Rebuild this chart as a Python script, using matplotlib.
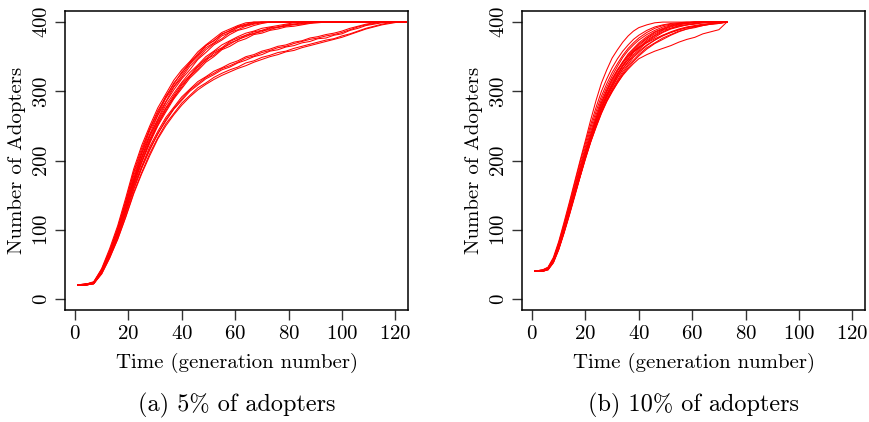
import matplotlib
matplotlib.use("Agg")
import matplotlib.pyplot as plt

plt.rcParams['font.family'] = 'cmr10'
plt.rcParams['axes.formatter.use_mathtext'] = True

# generations at which the 5% runs were read (every 3 generations)
t_a = [1, 4, 7, 10, 13, 16, 19, 22, 25, 28, 31, 34, 37, 40, 43, 46, 49, 52, 55, 58, 61,
       64, 67, 70, 73, 76, 79, 82, 85, 88, 91, 94, 97, 100, 103, 106, 109, 112, 115, 118,
       121, 124]

runs_a = [
    # fast runs, saturate around generation 65-75
    [20, 21, 24, 44, 73, 106, 146, 188, 222, 250, 276, 296, 316, 331, 343, 357, 367, 376, 385, 390, 395,
     399, 400, 400, 400, 400, 400, 400, 400, 400, 400, 400, 400, 400, 400, 400, 400, 400, 400, 400,
     400, 400],
    [20, 20, 23, 41, 69, 101, 140, 182, 214, 246, 269, 293, 310, 328, 340, 354, 366, 373, 382, 388, 393,
     396, 399, 400, 400, 400, 400, 400, 400, 400, 400, 400, 400, 400, 400, 400, 400, 400, 400, 400,
     400, 400],
    [20, 22, 23, 40, 67, 98, 136, 174, 210, 238, 265, 285, 306, 320, 336, 347, 360, 369, 376, 385, 389,
     394, 397, 399, 400, 400, 400, 400, 400, 400, 400, 400, 400, 400, 400, 400, 400, 400, 400, 400,
     400, 400],
    [20, 21, 25, 43, 70, 103, 142, 184, 218, 246, 272, 291, 312, 326, 342, 352, 366, 373, 383, 387, 394,
     397, 400, 400, 400, 400, 400, 400, 400, 400, 400, 400, 400, 400, 400, 400, 400, 400, 400, 400,
     400, 400],
    [20, 20, 22, 39, 66, 97, 134, 172, 205, 236, 260, 284, 302, 318, 331, 346, 356, 367, 374, 382, 388,
     391, 395, 398, 400, 400, 400, 400, 400, 400, 400, 400, 400, 400, 400, 400, 400, 400, 400, 400,
     400, 400],
    [20, 21, 24, 42, 68, 99, 137, 178, 211, 243, 266, 290, 307, 323, 339, 350, 363, 370, 380, 385, 392,
     395, 398, 400, 400, 400, 400, 400, 400, 400, 400, 400, 400, 400, 400, 400, 400, 400, 400, 400,
     400, 400],
    # middle runs
    [20, 21, 23, 41, 67, 98, 135, 173, 205, 235, 258, 280, 297, 313, 327, 338, 350, 358, 367, 373, 379,
     384, 387, 391, 393, 395, 397, 399, 400, 400, 400, 400, 400, 400, 400, 400, 400, 400, 400, 400,
     400, 400],
    [20, 20, 22, 38, 64, 94, 128, 167, 198, 229, 251, 275, 290, 309, 321, 335, 344, 355, 361, 370, 374,
     381, 383, 388, 389, 393, 394, 397, 397, 399, 400, 400, 400, 400, 400, 400, 400, 400, 400, 400,
     400, 400],
    [20, 21, 24, 40, 65, 93, 129, 165, 197, 225, 250, 270, 289, 304, 319, 330, 342, 350, 360, 365, 372,
     376, 382, 384, 388, 390, 393, 394, 396, 398, 399, 400, 400, 400, 400, 400, 400, 400, 400, 400,
     400, 400],
    [20, 20, 23, 39, 66, 96, 132, 170, 203, 231, 256, 276, 294, 311, 323, 337, 347, 357, 363, 372, 377,
     381, 386, 388, 392, 393, 396, 397, 399, 400, 400, 400, 400, 400, 400, 400, 400, 400, 400, 400,
     400, 400],
    [20, 22, 23, 40, 64, 95, 130, 169, 199, 227, 254, 272, 292, 306, 322, 332, 346, 352, 362, 368, 375,
     379, 384, 386, 391, 392, 395, 396, 398, 399, 400, 400, 400, 400, 400, 400, 400, 400, 400, 400,
     400, 400],
    # slow runs
    [20, 20, 22, 38, 63, 92, 127, 163, 192, 220, 242, 262, 277, 292, 303, 314, 321, 329, 334, 340, 344,
     350, 353, 358, 361, 365, 367, 371, 373, 377, 379, 382, 384, 387, 391, 394, 397, 399, 400, 400,
     400, 400],
    [20, 21, 23, 38, 62, 90, 123, 158, 189, 215, 239, 257, 274, 287, 300, 309, 318, 324, 331, 335, 341,
     345, 350, 353, 358, 360, 364, 366, 370, 372, 376, 377, 381, 383, 388, 391, 395, 397, 399, 400,
     400, 400],
    [20, 20, 22, 36, 59, 87, 119, 154, 183, 210, 233, 253, 268, 283, 294, 305, 312, 320, 326, 331, 335,
     341, 344, 349, 352, 356, 358, 362, 365, 368, 371, 374, 376, 380, 383, 387, 391, 394, 397, 399,
     400, 400],
    [20, 21, 22, 37, 60, 86, 118, 152, 181, 207, 231, 250, 266, 280, 292, 302, 310, 317, 323, 328, 333,
     337, 342, 346, 350, 353, 357, 359, 363, 366, 369, 372, 375, 378, 382, 386, 390, 393, 396, 398,
     400, 400],
    [20, 20, 23, 37, 61, 90, 124, 160, 190, 217, 238, 259, 275, 289, 302, 311, 320, 326, 333, 337, 342,
     348, 351, 356, 359, 363, 365, 369, 372, 375, 377, 380, 382, 385, 389, 393, 396, 398, 400, 400,
     400, 400],
]

# generations at which the 10% runs were read
t_b = [1, 4, 6, 8, 10, 12, 14, 16, 18, 20, 22, 24, 26, 28, 30, 32, 34, 36, 38, 40, 43,
       46, 49, 52, 55, 58, 61, 64, 67, 70, 73]

runs_b = [
    [40, 42, 46, 60, 83, 111, 140, 170, 200, 229, 259, 287, 312, 331, 348, 360, 371, 380, 387, 392, 396,
     399, 400, 400, 400, 400, 400, 400, 400, 400, 400],
    [40, 41, 45, 58, 79, 105, 131, 160, 189, 216, 242, 266, 288, 306, 322, 336, 349, 359, 367, 374, 382,
     388, 393, 396, 398, 399, 400, 400, 400, 400, 400],
    [40, 40, 43, 54, 74, 99, 126, 152, 181, 207, 232, 256, 276, 295, 309, 324, 337, 346, 357, 363, 374,
     381, 388, 391, 395, 396, 398, 399, 400, 400, 400],
    [40, 41, 45, 57, 80, 106, 134, 163, 192, 220, 247, 271, 293, 311, 327, 340, 352, 362, 370, 377, 385,
     391, 395, 397, 398, 399, 400, 400, 400, 400, 400],
    [40, 40, 43, 53, 72, 97, 123, 151, 177, 205, 228, 251, 271, 288, 303, 316, 329, 339, 349, 356, 366,
     374, 381, 386, 390, 393, 395, 397, 398, 399, 400],
    [40, 42, 44, 56, 76, 102, 128, 156, 183, 210, 235, 259, 280, 299, 314, 329, 341, 352, 360, 368, 377,
     385, 390, 394, 397, 398, 400, 400, 400, 400, 400],
    [40, 40, 42, 52, 71, 95, 121, 148, 176, 202, 227, 248, 268, 285, 299, 312, 324, 334, 343, 351, 361,
     369, 375, 381, 386, 390, 393, 395, 397, 398, 400],
    [40, 41, 44, 56, 76, 101, 127, 154, 182, 208, 233, 256, 277, 296, 311, 326, 338, 349, 358, 366, 376,
     383, 389, 393, 396, 398, 399, 400, 400, 400, 400],
    [40, 40, 43, 54, 73, 98, 125, 152, 180, 206, 230, 253, 274, 291, 306, 320, 333, 343, 353, 360, 371,
     378, 385, 390, 393, 396, 397, 399, 400, 400, 400],
    [40, 41, 45, 58, 81, 108, 137, 167, 197, 225, 252, 277, 300, 318, 334, 347, 358, 367, 375, 381, 388,
     393, 396, 398, 399, 400, 400, 400, 400, 400, 400],
    [40, 40, 42, 53, 72, 96, 122, 150, 177, 204, 229, 250, 270, 287, 301, 314, 326, 337, 345, 353, 363,
     370, 377, 382, 387, 390, 392, 395, 397, 398, 400],
    [40, 41, 44, 55, 75, 100, 127, 154, 181, 208, 232, 255, 276, 293, 309, 323, 336, 346, 356, 362, 372,
     380, 386, 391, 394, 396, 398, 400, 400, 400, 400],
    [40, 40, 43, 54, 73, 97, 124, 150, 177, 203, 227, 249, 269, 286, 300, 312, 323, 332, 340, 347, 353,
     358, 362, 366, 371, 375, 378, 383, 386, 389, 400],
    [40, 42, 45, 57, 78, 104, 130, 158, 186, 213, 238, 262, 284, 301, 317, 331, 343, 354, 362, 370, 379,
     386, 391, 395, 397, 399, 400, 400, 400, 400, 400],
    [40, 41, 44, 55, 74, 99, 125, 153, 181, 209, 236, 261, 283, 302, 318, 331, 342, 351, 358, 364, 370,
     376, 381, 385, 389, 392, 394, 396, 397, 399, 400],
    [40, 40, 43, 54, 75, 101, 129, 157, 184, 211, 234, 256, 275, 292, 306, 320, 332, 342, 351, 358, 367,
     374, 380, 385, 389, 392, 394, 396, 398, 399, 400],
]

x_ticks = [0, 20, 40, 60, 80, 100, 120]
y_ticks = [0, 100, 200, 300, 400]

fig = plt.figure(figsize=(8.7, 4.22), dpi=100)
panels = [
    (0.0747, t_a, runs_a, '(a) 5% of adopters'),
    (0.600, t_b, runs_b, '(b) 10% of adopters'),
]

for left, t, runs, caption in panels:
    ax = fig.add_axes([left, 0.2654, 0.3943, 0.7085])
    for r in runs:
        ax.plot(t, r, color='#ff0000', lw=0.75)
    ax.set_xlim(-3.76, 124.76)
    ax.set_ylim(-16, 416)
    ax.set_xticks(x_ticks)
    ax.set_yticks(y_ticks)
    ax.tick_params(direction='out', length=7, width=1, labelsize=15, color='#333333')
    ax.tick_params(axis='x', pad=4)
    ax.tick_params(axis='y', pad=3)
    for lab in ax.get_yticklabels():
        lab.set_rotation(90)
        lab.set_va('center')
    for s in ax.spines.values():
        s.set_linewidth(1.1)
    ax.set_xlabel('Time (generation number)', fontsize=15, labelpad=7)
    ax.set_ylabel('Number of Adopters', fontsize=15, labelpad=5)
    fig.text(left + 0.3943 / 2, 0.04, caption, fontsize=17.5, ha='center', va='center')

fig.savefig('out.png', dpi=100)
